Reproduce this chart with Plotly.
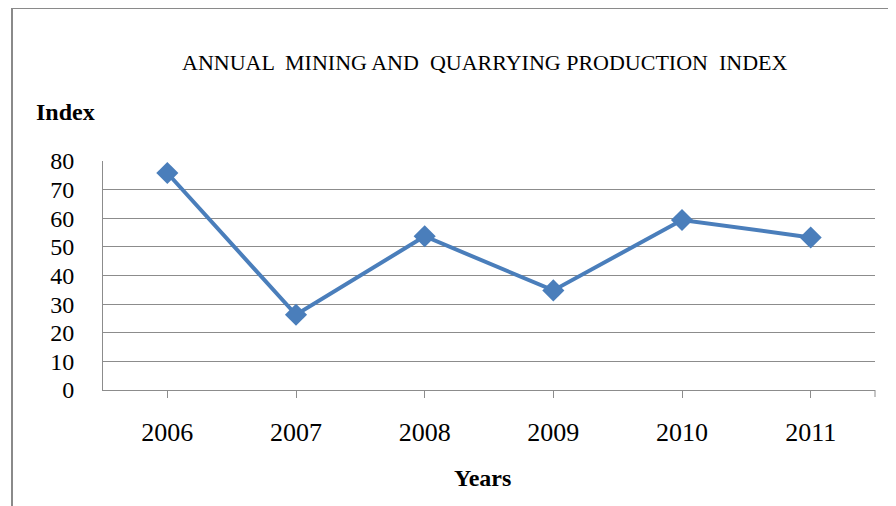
import plotly.graph_objects as go

years = ["2006", "2007", "2008", "2009", "2010", "2011"]
index_values = [75.8, 26.3, 53.7, 34.8, 59.4, 53.3]
y_ticks = [0, 10, 20, 30, 40, 50, 60, 70, 80]

OFF = 8  # page body margin
W, H = 896 - OFF, 506 - OFF
L, R, T, B = 103 - OFF, 21, 161 - OFF, 116
pw, ph = W - L - R, H - T - B

def px(x):
    return (x - OFF - L) / pw

def py(y):
    return (H - B - (y - OFF)) / ph

serif = "Liberation Serif, Times New Roman, serif"
blue = "#4A7EBB"

fig = go.Figure()
fig.add_trace(go.Scatter(
    x=years, y=index_values, mode="lines+markers",
    line=dict(color=blue, width=4),
    marker=dict(symbol="diamond", size=17, color=blue),
    cliponaxis=False, showlegend=False,
))

fig.update_layout(
    width=W, height=H,
    margin=dict(l=L, r=R, t=T, b=B),
    paper_bgcolor="white", plot_bgcolor="white",
    font=dict(family=serif, color="black"),
    xaxis=dict(
        type="category", range=[-0.5, 5.5],
        showgrid=False, showline=True, linecolor="#8c8c8c", linewidth=1,
        ticks="outside", ticklen=7, tickcolor="#8c8c8c",
        tickfont=dict(size=26, family=serif), ticklabelstandoff=12,
        zeroline=False,
    ),
    yaxis=dict(
        range=[0, 80], tickvals=y_ticks,
        showgrid=True, gridcolor="#8c8c8c", gridwidth=1,
        showline=True, linecolor="#8c8c8c", linewidth=1,
        ticks="", tickfont=dict(size=24, family=serif), ticklabelstandoff=23,
        zeroline=False,
    ),
    shapes=[dict(
        type="rect", xref="paper", yref="paper",
        x0=px(12), x1=px(905), y0=py(515), y1=py(8),
        line=dict(color="#8a8a8a", width=2), fillcolor="rgba(0,0,0,0)",
        layer="below",
    ), dict(
        type="line", xref="paper", yref="paper",
        x0=1, x1=1, y0=0, y1=py(397),
        line=dict(color="#8c8c8c", width=1),
    )],
    annotations=[
        dict(text="ANNUAL  MINING AND  QUARRYING PRODUCTION  INDEX",
             xref="paper", yref="paper", x=px(484), y=py(63),
             xanchor="center", yanchor="middle", showarrow=False,
             font=dict(size=22, family=serif)),
        dict(text="<b>Index</b>", xref="paper", yref="paper",
             x=px(34), y=py(112), xanchor="left", yanchor="middle",
             showarrow=False, font=dict(size=24, family=serif)),
        dict(text="<b>Years</b>", xref="paper", yref="paper",
             x=px(482), y=py(478), xanchor="center", yanchor="middle",
             showarrow=False, font=dict(size=24, family=serif)),
    ],
)

fig.write_html("out.html")
